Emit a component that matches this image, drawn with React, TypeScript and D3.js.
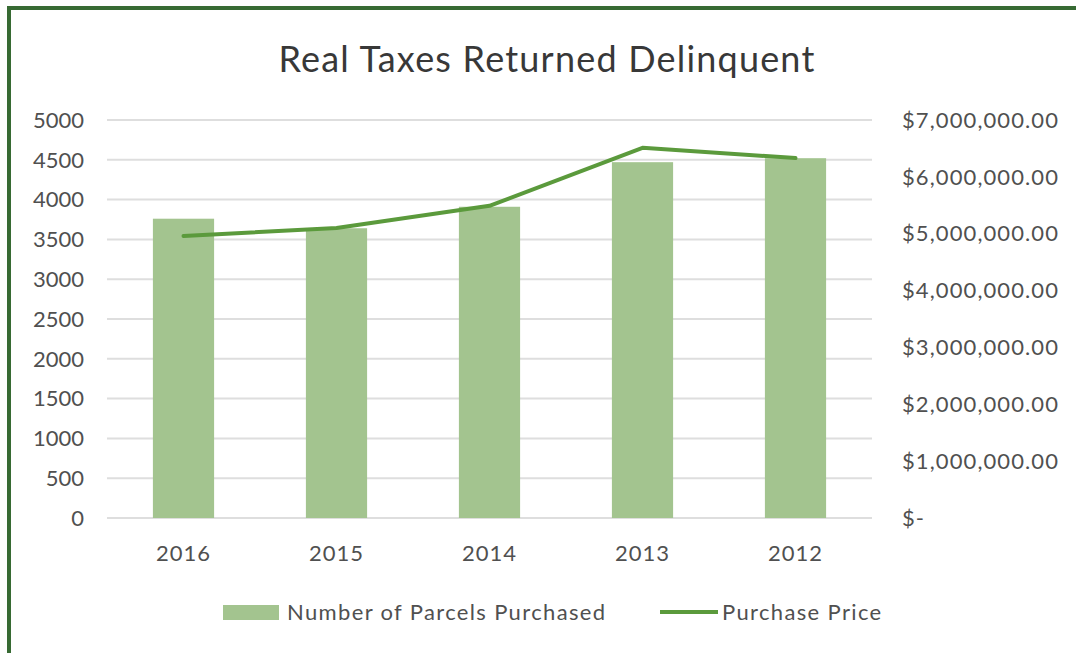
import React from "react";
import * as d3 from "d3";

const years = ["2016", "2015", "2014", "2013", "2012"];
const parcels = [3760, 3640, 3910, 4470, 4520];
const prices = [4960000, 5100000, 5490000, 6510000, 6330000];
const leftTicks = [0, 500, 1000, 1500, 2000, 2500, 3000, 3500, 4000, 4500, 5000];
const rightTicks = [0, 1000000, 2000000, 3000000, 4000000, 5000000, 6000000, 7000000];

const width = 1076;
const height = 653;
const margin = { top: 120, right: 204, bottom: 135, left: 107 };
const font = "Lato, 'Open Sans', sans-serif";

const barColor = "#a3c48f";
const lineColor = "#5b9a3c";
const textColor = "#505050";

const fmtMoney = (v: number) =>
  v === 0 ? "$-" : "$" + d3.format(",.2f")(v);

const App = () => {
  const x = d3
    .scaleBand()
    .domain(years)
    .range([margin.left, width - margin.right])
    .paddingInner(0.6)
    .paddingOuter(0.3);
  const yL = d3
    .scaleLinear()
    .domain([0, 5000])
    .range([height - margin.bottom, margin.top]);
  const yR = d3
    .scaleLinear()
    .domain([0, 7000000])
    .range([height - margin.bottom, margin.top]);

  const line = d3
    .line<number>()
    .x((_, i) => x(years[i])! + x.bandwidth() / 2)
    .y((d) => yR(d));

  return (
    <svg
      width={width}
      height={height}
      style={{ position: "absolute", left: 0, top: 0, background: "#fff" }}
      fontFamily={font}
    >
      <rect x={9} y={8} width={width + 10} height={height + 10} fill="none" stroke="#376a33" strokeWidth={4} />

      <text x={547} y={72} textAnchor="middle" fontSize={36} letterSpacing={1.2} fill="#383838">
        Real Taxes Returned Delinquent
      </text>

      <g>
        {leftTicks.map((t) => (
          <line
            key={t}
            x1={margin.left}
            x2={width - margin.right}
            y1={yL(t)}
            y2={yL(t)}
            stroke="#dedede"
            strokeWidth={2}
          />
        ))}
      </g>

      <g>
        {years.map((yr, i) => (
          <rect
            key={yr}
            x={x(yr)}
            y={yL(parcels[i])}
            width={x.bandwidth()}
            height={yL(0) - yL(parcels[i])}
            fill={barColor}
          />
        ))}
      </g>

      <path d={line(prices)!} fill="none" stroke={lineColor} strokeWidth={4} strokeLinejoin="round" strokeLinecap="round" />

      <g fontSize={22} fill={textColor}>
        {leftTicks.map((t) => (
          <text key={t} x={84} y={yL(t)} dy="0.35em" textAnchor="end">
            {t}
          </text>
        ))}
        {rightTicks.map((t) => (
          <text key={t} x={902} y={yR(t)} dy="0.35em" letterSpacing={1.1}>
            {fmtMoney(t)}
          </text>
        ))}
        {years.map((yr) => (
          <text key={yr} x={x(yr)! + x.bandwidth() / 2} y={561} textAnchor="middle" letterSpacing={1}>
            {yr}
          </text>
        ))}
      </g>

      <g fontSize={22} fill={textColor} letterSpacing={1.35}>
        <rect x={223} y={605} width={56} height={15} fill={barColor} />
        <text x={287} y={612} dy="0.35em">Number of Parcels Purchased</text>
        <line x1={660} x2={718} y1={612} y2={612} stroke={lineColor} strokeWidth={4} />
        <text x={722} y={612} dy="0.35em">Purchase Price</text>
      </g>
    </svg>
  );
};

export default App;
